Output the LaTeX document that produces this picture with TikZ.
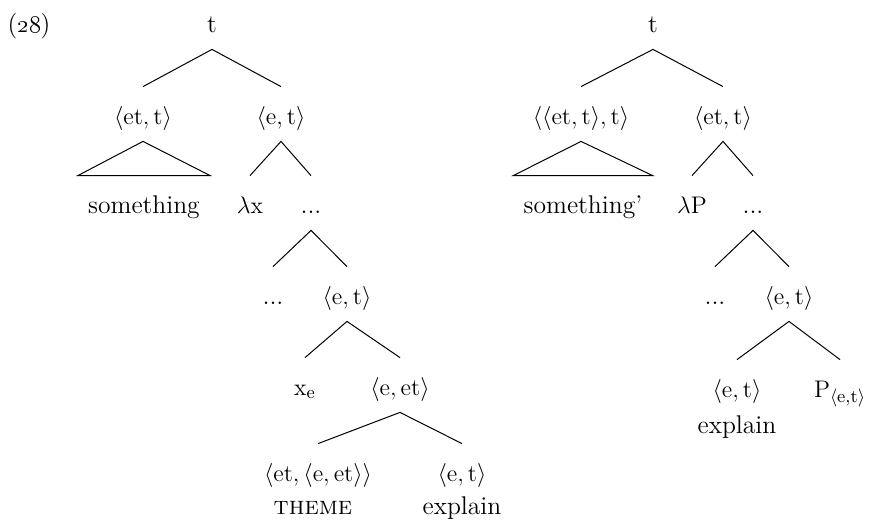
\documentclass[tikz,border=0pt]{standalone}
\usepackage{tikz}
\usetikzlibrary{positioning}
\newcommand{\ty}[1]{$\mathrm{\langle #1\rangle}$}
\tikzset{
  lab/.style={anchor=base,inner xsep=1pt,inner ysep=6pt,
    text height=12.5pt,text depth=2.5pt},
  wrd/.style={lab,inner xsep=5pt},
  br/.style={line width=0.5pt,draw=black},
}
\begin{document}
\begin{tikzpicture}[x=0.5pt,y=-0.5pt,font=\fontsize{12.8}{15}\selectfont]
  \useasboundingbox (0,0) rectangle (872,527);
  \node[lab] (ex) at (29,32) {(\oldstylenums{28})};
  \node[lab] (lroot) at (212,32) {t};
  \node[lab] (let) at (143,124) {\ty{et,t}};
  \node[lab] (le) at (281,124) {\ty{e,t}};
  \node[wrd] (lsome) at (144,213) {something};
  \node[lab] (llam) at (250,213) {$\lambda\mathrm{x}$};
  \node[lab] (ldots) at (311,213) {...};
  \node[lab] (ldots2) at (273,304) {...};
  \node[lab] (le2) at (347,304) {\ty{e,t}};
  \node[lab] (lxe) at (305,395) {$\mathrm{x_e}$};
  \node[lab] (leet) at (400,395) {\ty{e,et}};
  \node[lab] (lth) at (318,481) {\ty{et,\langle e,et\rangle}};
  \node[lab] (let2) at (462,481) {\ty{e,t}};
  \node[lab] (lthw) at (313,514) {\textsc{theme}};
  \node[lab] (lexpl) at (462,514) {explain};
  \node[lab] (rroot) at (653,32) {t};
  \node[lab] (rett) at (581,124) {\ty{\langle et,t\rangle,t}};
  \node[lab] (ret) at (723,124) {\ty{et,t}};
  \node[wrd] (rsome) at (583,213) {something'};
  \node[lab] (rlam) at (692,213) {$\lambda\mathrm{P}$};
  \node[lab] (rdots) at (753,213) {...};
  \node[lab] (rdots2) at (715,304) {...};
  \node[lab] (ret2) at (789,304) {\ty{e,t}};
  \node[lab] (ret3) at (737,397) {\ty{e,t}};
  \node[lab] (rP) at (840,397) {$\mathrm{P_{\langle e,t\rangle}}$};
  \node[lab] (rexpl) at (737,433) {explain};
  \draw[br] (let.north) -- (lroot.south) -- (le.north);
  \draw[br] (let.south) -- (lsome.north west) -- (lsome.north east) -- cycle;
  \draw[br] (llam.north) -- (le.south) -- (ldots.north);
  \draw[br] (ldots2.north) -- (ldots.south) -- (le2.north);
  \draw[br] (lxe.north) -- (le2.south) -- (leet.north);
  \draw[br] (lth.north) -- (leet.south) -- (let2.north);
  \draw[br] (rett.north) -- (rroot.south) -- (ret.north);
  \draw[br] (rett.south) -- (rsome.north west) -- (rsome.north east) -- cycle;
  \draw[br] (rlam.north) -- (ret.south) -- (rdots.north);
  \draw[br] (rdots2.north) -- (rdots.south) -- (ret2.north);
  \draw[br] (ret3.north) -- (ret2.south) -- (rP.north);
\end{tikzpicture}
\end{document}
